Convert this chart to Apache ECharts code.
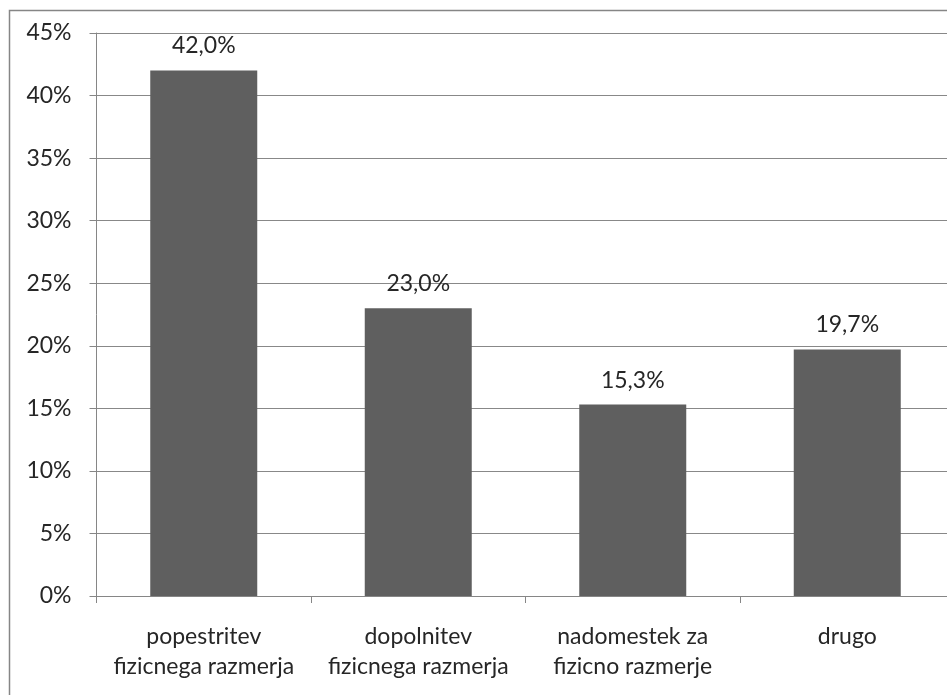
<!DOCTYPE html>
<html><head><meta charset="utf-8">
<script src="https://cdn.jsdelivr.net/npm/echarts@6/dist/echarts.min.js"></script>
<style>html,body{margin:0;padding:0;background:#fff;overflow:hidden}#c{width:965px;height:695px}</style>
</head><body><div id="c"></div>
<script>
const categories = ['popestritev\nfizicnega razmerja', 'dopolnitev\nfizicnega razmerja', 'nadomestek za\nfizicno razmerje', 'drugo'];
const values = [42.0, 23.0, 15.3, 19.7];
const yTicks = [0, 5, 10, 15, 20, 25, 30, 35, 40, 45];

const chart = echarts.init(document.getElementById('c'), null, {renderer: 'canvas'});
const font = 'Lato, "Open Sans", sans-serif';
chart.setOption({
  animation: false,
  graphic: [{type: 'rect', shape: {x: 9.5, y: 10.5, width: 1200, height: 1200}, style: {fill: 'none', stroke: '#868686', lineWidth: 1.5}, z: -1}],
  grid: {left: 96.5, top: 33, width: 858, height: 563},
  xAxis: {
    type: 'category', data: categories,
    axisLine: {lineStyle: {color: '#868686', width: 1}},
    axisTick: {show: true, length: 7, alignWithLabel: false, lineStyle: {color: '#868686'}},
    axisLabel: {color: '#262626', fontFamily: font, fontSize: 23, lineHeight: 30, margin: 26, interval: 0}
  },
  yAxis: {
    type: 'value', min: yTicks[0], max: yTicks[yTicks.length - 1], interval: 5,
    axisLine: {show: true, lineStyle: {color: '#868686', width: 1}},
    axisTick: {show: true, length: 7, lineStyle: {color: '#868686'}},
    splitLine: {lineStyle: {color: '#888888', width: 1.2}},
    axisLabel: {color: '#262626', fontFamily: font, fontSize: 23, margin: 25, formatter: v => v + '%'}
  },
  series: [{
    type: 'bar', data: values, barWidth: 107,
    itemStyle: {color: '#5f5f5f'},
    label: {show: true, position: 'top', distance: 13, color: '#262626', fontFamily: font, fontSize: 23,
      formatter: p => p.value.toFixed(1).replace('.', ',') + '%'}
  }]
});
</script></body></html>
